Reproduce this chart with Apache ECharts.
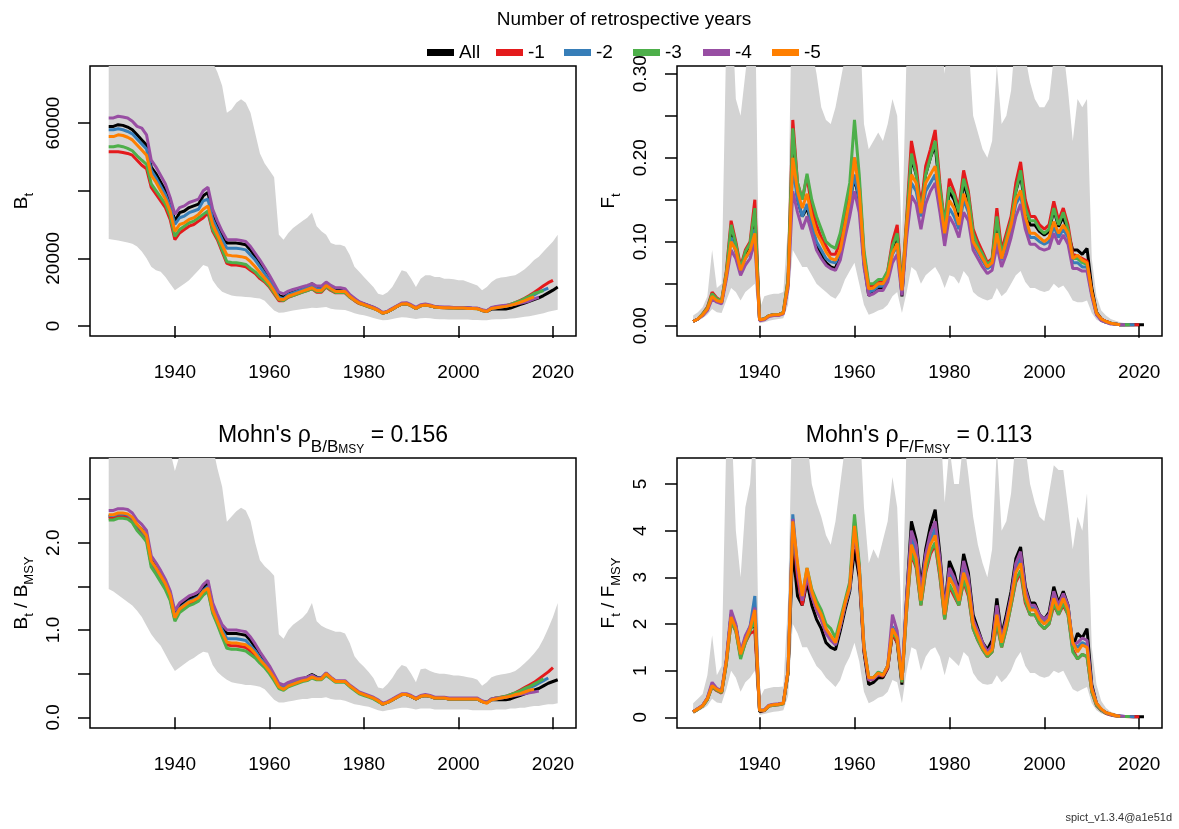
<!DOCTYPE html>
<html>
<head>
<meta charset="UTF-8">
<title>spict retro</title>
<script src="https://cdn.jsdelivr.net/npm/echarts@6/dist/echarts.min.js"></script>
<style>
html, body { margin: 0; padding: 0; background: #fff; }
#main { width: 1179px; height: 829px; }
</style>
</head>
<body>
<div id="main"></div>
<script>
var firstYear = 1926;
var retroNames = ['All', '-1', '-2', '-3', '-4', '-5'];
var retroColors = ['#000000', '#E41A1C', '#377EB8', '#4DAF4A', '#984EA3', '#FF7F00'];

// B_t, thousands (one value per year from 1926)
var bAll = [59.0, 59.0, 59.5, 59.3, 58.8, 58.0, 56.5, 55.0, 53.5, 47.0,
  45.0, 42.5, 40.0, 36.5, 31.0, 33.5, 34.0, 35.0, 35.5, 36.0,
  38.5, 39.5, 33.0, 30.0, 27.0, 24.5, 24.5, 24.5, 24.3, 24.0,
  22.5, 20.5, 18.5, 16.5, 14.5, 12.0, 9.0, 8.5, 9.5, 10.0,
  10.5, 11.0, 11.5, 12.5, 11.5, 11.5, 12.5, 11.5, 10.5, 10.5,
  10.5, 9.0, 8.0, 7.0, 6.5, 6.0, 5.5, 4.8, 3.8, 4.2,
  5.0, 5.8, 6.5, 6.6, 6.0, 5.2, 6.0, 6.2, 6.0, 5.6,
  5.5, 5.5, 5.4, 5.4, 5.3, 5.3, 5.3, 5.2, 5.2, 4.6,
  4.3, 5.0, 5.0, 5.0, 5.0, 5.3, 5.8, 6.3, 6.8, 7.3,
  7.8, 8.3, 9.0, 9.8, 10.6, 11.5];
var bM1 = [51.5, 51.5, 51.5, 51.3, 51.0, 50.5, 49.0, 47.5, 46.5, 41.0,
  39.0, 37.0, 35.0, 31.5, 25.5, 27.5, 28.5, 29.5, 30.0, 31.0,
  32.0, 33.5, 28.0, 25.5, 22.0, 18.5, 18.0, 18.0, 17.8, 17.5,
  16.5, 15.5, 14.0, 13.0, 11.5, 9.5, 7.5, 7.5, 8.5, 9.0,
  9.5, 10.0, 10.5, 11.0, 10.0, 10.0, 11.5, 10.5, 9.8, 9.8,
  9.8, 8.5, 7.5, 6.6, 6.2, 5.7, 5.2, 4.6, 3.8, 4.2,
  5.0, 5.8, 6.5, 6.6, 6.0, 5.2, 6.0, 6.2, 6.0, 5.6,
  5.5, 5.4, 5.4, 5.4, 5.3, 5.3, 5.3, 5.2, 5.2, 4.7,
  4.4, 5.3, 5.6, 5.8, 6.0, 6.4, 6.9, 7.5, 8.2, 9.0,
  9.9, 10.9, 11.9, 12.8, 13.5];
var bM2 = [58.0, 58.0, 58.3, 58.0, 57.5, 56.8, 55.3, 53.8, 52.3, 46.0,
  43.8, 41.3, 38.8, 35.3, 30.0, 32.0, 32.5, 33.5, 34.0, 34.5,
  37.0, 37.5, 31.5, 28.5, 25.5, 23.0, 23.0, 23.0, 22.8, 22.5,
  21.0, 19.5, 17.5, 15.5, 13.5, 11.0, 8.5, 8.0, 9.3, 9.8,
  10.3, 10.8, 11.3, 12.0, 11.0, 11.0, 12.3, 11.2, 10.3, 10.3,
  10.3, 8.8, 7.8, 6.9, 6.4, 5.9, 5.4, 4.7, 3.8, 4.2,
  5.0, 5.8, 6.5, 6.6, 6.0, 5.2, 6.0, 6.2, 6.0, 5.6,
  5.5, 5.5, 5.4, 5.4, 5.3, 5.3, 5.3, 5.2, 5.2, 4.6,
  4.4, 5.2, 5.4, 5.6, 5.8, 6.1, 6.6, 7.1, 7.7, 8.4,
  9.2, 10.0, 10.6, 11.2];
var bM3 = [53.0, 53.0, 53.3, 53.0, 52.5, 51.8, 50.3, 49.0, 47.8, 42.0,
  40.0, 38.0, 36.0, 32.5, 26.5, 28.5, 29.5, 30.5, 31.0, 32.0,
  33.0, 34.0, 28.5, 26.0, 22.5, 19.0, 18.8, 18.7, 18.5, 18.2,
  17.0, 16.0, 14.5, 13.3, 11.8, 9.8, 7.8, 7.5, 8.6, 9.0,
  9.5, 10.0, 10.5, 11.0, 10.2, 10.2, 11.6, 10.7, 9.9, 9.9,
  9.9, 8.5, 7.6, 6.7, 6.2, 5.7, 5.2, 4.6, 3.8, 4.2,
  5.0, 5.8, 6.5, 6.6, 6.0, 5.2, 6.0, 6.2, 6.0, 5.6,
  5.5, 5.4, 5.4, 5.3, 5.3, 5.3, 5.2, 5.2, 5.1, 4.6,
  4.4, 5.3, 5.5, 5.8, 6.0, 6.4, 6.9, 7.4, 8.1, 8.8,
  9.6, 10.0, 10.5];
var bM4 = [61.5, 61.5, 62.0, 61.8, 61.5, 60.5, 59.0, 58.5, 56.5, 49.0,
  47.0, 44.5, 42.0, 38.0, 33.0, 35.0, 35.5, 36.5, 37.0, 37.5,
  40.0, 41.0, 34.5, 31.0, 28.0, 25.5, 25.5, 25.5, 25.3, 25.0,
  23.5, 21.5, 19.5, 17.3, 15.0, 12.5, 10.0, 9.5, 10.3, 10.8,
  11.2, 11.6, 12.0, 12.5, 11.8, 11.8, 13.0, 12.0, 11.3, 11.3,
  11.0, 9.3, 8.2, 7.2, 6.6, 6.1, 5.6, 4.9, 4.0, 4.4,
  5.2, 6.0, 6.8, 6.9, 6.3, 5.5, 6.3, 6.5, 6.2, 5.8,
  5.7, 5.6, 5.6, 5.5, 5.5, 5.4, 5.4, 5.3, 5.3, 4.8,
  4.5, 5.5, 5.8, 6.0, 6.1, 6.2, 6.4, 6.7, 7.0, 7.4,
  8.0, 8.5];
var bM5 = [56.0, 56.0, 56.5, 56.3, 55.8, 55.0, 53.5, 52.0, 50.5, 44.5,
  42.5, 40.0, 37.5, 34.0, 28.0, 30.0, 30.5, 31.5, 32.0, 33.0,
  34.5, 35.5, 30.0, 27.0, 24.0, 21.0, 20.8, 20.7, 20.5, 20.2,
  19.0, 17.5, 15.8, 14.2, 12.5, 10.3, 8.0, 7.8, 8.8, 9.3,
  9.8, 10.3, 10.8, 11.3, 10.5, 10.5, 12.0, 11.0, 10.2, 10.2,
  10.2, 8.7, 7.7, 6.8, 6.3, 5.8, 5.3, 4.6, 3.8, 4.2,
  5.0, 5.8, 6.5, 6.6, 6.0, 5.2, 6.0, 6.2, 6.0, 5.6,
  5.5, 5.4, 5.4, 5.3, 5.3, 5.3, 5.2, 5.2, 5.1, 4.6,
  4.3, 5.2, 5.4, 5.6, 5.8, 6.1, 6.5, 7.0, 7.5, 8.1,
  8.6];
var bLow = [25.7, 25.5, 25.3, 25.0, 24.7, 24.3, 23.5, 22.0, 20.0, 17.5,
  16.5, 16.0, 14.5, 12.5, 10.6, 11.5, 12.5, 13.5, 15.0, 16.5,
  18.0, 17.5, 13.5, 11.5, 10.1, 9.5, 9.0, 8.8, 8.7, 8.6,
  8.5, 8.3, 8.1, 7.5, 6.0, 4.6, 3.9, 4.0, 4.3, 4.6,
  4.8, 5.0, 5.2, 5.4, 5.3, 5.5, 5.6, 5.1, 4.9, 4.8,
  4.7, 4.3, 3.8, 3.4, 3.2, 2.8, 2.4, 2.0, 1.7, 1.8,
  2.1, 2.4, 2.6, 2.5, 2.3, 2.1, 2.3, 2.4, 2.3, 2.1,
  2.0, 2.0, 1.9, 1.9, 1.9, 1.9, 1.9, 1.8, 1.8, 1.7,
  1.7, 1.9, 2.0, 2.0, 2.1, 2.2, 2.3, 2.5, 2.7, 2.9,
  3.2, 3.5, 3.8, 4.2, 4.5, 4.8];
var bHigh = [95, 96, 97, 97, 96, 95, 94, 92, 90, 88,
  87, 86, 85, 84, 82, 83, 84, 85, 86, 87,
  87, 86, 78, 75, 71, 63, 64, 66, 67, 66,
  63, 57, 51, 48, 46, 44, 27, 25.5, 27.5, 29,
  30, 31, 32, 33.5, 29.5, 28, 27, 24.5, 24, 24,
  23.5, 21, 17.5, 16, 14.5, 13, 11.5, 9.5, 9.2, 10,
  11.5, 14, 16.5, 16, 14, 11.5, 14, 15, 15, 14.5,
  14.5, 14, 14, 13.8, 13.5, 13.5, 13, 12.5, 12, 10.6,
  11.5, 13, 14, 14.3, 14.5, 14.8, 15, 15.8, 16.8, 18,
  19.5, 20.5, 22, 23.5, 25, 27];

// F_t
var fAll = [0.005, 0.008, 0.013, 0.02, 0.036, 0.03, 0.028, 0.06, 0.115, 0.09,
  0.066, 0.085, 0.092, 0.13, 0.007, 0.008, 0.012, 0.013, 0.013, 0.015,
  0.05, 0.21, 0.15, 0.13, 0.14, 0.12, 0.095, 0.085, 0.075, 0.07,
  0.068, 0.085, 0.12, 0.15, 0.175, 0.15, 0.075, 0.036, 0.04, 0.045,
  0.045, 0.06, 0.09, 0.11, 0.035, 0.12, 0.2, 0.18, 0.14, 0.18,
  0.2, 0.215, 0.16, 0.12, 0.16, 0.15, 0.13, 0.17, 0.15, 0.11,
  0.095, 0.085, 0.072, 0.078, 0.125, 0.085, 0.105, 0.125, 0.16, 0.18,
  0.14, 0.12, 0.12, 0.112, 0.108, 0.112, 0.138, 0.118, 0.13, 0.11,
  0.09, 0.09, 0.085, 0.092, 0.045, 0.016, 0.008, 0.005, 0.003, 0.002,
  0.001, 0.001, 0.001, 0.001, 0.001, 0.001];
var fM1 = [0.005, 0.008, 0.014, 0.022, 0.04, 0.033, 0.03, 0.065, 0.125, 0.10,
  0.07, 0.09, 0.10, 0.15, 0.007, 0.008, 0.012, 0.013, 0.013, 0.016,
  0.055, 0.245, 0.17, 0.15, 0.178, 0.14, 0.12, 0.105, 0.095, 0.085,
  0.085, 0.10, 0.13, 0.16, 0.20, 0.17, 0.085, 0.047, 0.048, 0.053,
  0.053, 0.065, 0.10, 0.12, 0.045, 0.13, 0.22, 0.19, 0.14, 0.19,
  0.21, 0.233, 0.17, 0.12, 0.175, 0.16, 0.14, 0.185, 0.16, 0.115,
  0.10, 0.088, 0.075, 0.08, 0.14, 0.09, 0.11, 0.13, 0.17, 0.195,
  0.15, 0.13, 0.13, 0.12, 0.115, 0.12, 0.148, 0.125, 0.14, 0.12,
  0.085, 0.083, 0.08, 0.077, 0.04, 0.015, 0.008, 0.005, 0.003, 0.002,
  0.001, 0.001, 0.001, 0.001, 0.001];
var fM2 = [0.005, 0.008, 0.013, 0.02, 0.035, 0.03, 0.028, 0.06, 0.105, 0.088,
  0.066, 0.08, 0.088, 0.115, 0.007, 0.008, 0.012, 0.013, 0.013, 0.015,
  0.05, 0.19, 0.15, 0.13, 0.145, 0.12, 0.10, 0.09, 0.08, 0.076,
  0.075, 0.088, 0.115, 0.145, 0.18, 0.15, 0.075, 0.04, 0.042, 0.047,
  0.047, 0.058, 0.085, 0.095, 0.04, 0.115, 0.17, 0.16, 0.13, 0.16,
  0.17, 0.18, 0.145, 0.105, 0.14, 0.13, 0.115, 0.15, 0.135, 0.097,
  0.087, 0.077, 0.068, 0.072, 0.105, 0.078, 0.095, 0.115, 0.145, 0.155,
  0.125, 0.105, 0.105, 0.1, 0.097, 0.1, 0.118, 0.105, 0.115, 0.105,
  0.075, 0.075, 0.07, 0.07, 0.038, 0.014, 0.007, 0.004, 0.003, 0.002,
  0.001, 0.001, 0.001, 0.001];
var fM3 = [0.005, 0.008, 0.014, 0.021, 0.038, 0.032, 0.03, 0.063, 0.12, 0.097,
  0.068, 0.088, 0.098, 0.14, 0.007, 0.008, 0.012, 0.013, 0.013, 0.016,
  0.055, 0.235, 0.17, 0.15, 0.181, 0.15, 0.13, 0.115, 0.1, 0.095,
  0.092, 0.11, 0.14, 0.17, 0.245, 0.18, 0.09, 0.05, 0.05, 0.055,
  0.055, 0.065, 0.095, 0.11, 0.045, 0.125, 0.205, 0.18, 0.135, 0.18,
  0.2, 0.22, 0.165, 0.12, 0.165, 0.155, 0.135, 0.175, 0.155, 0.11,
  0.095, 0.085, 0.073, 0.078, 0.13, 0.085, 0.105, 0.125, 0.16, 0.185,
  0.14, 0.125, 0.125, 0.115, 0.11, 0.115, 0.14, 0.12, 0.135, 0.115,
  0.08, 0.08, 0.075, 0.073, 0.038, 0.014, 0.007, 0.004, 0.003, 0.002,
  0.001, 0.001, 0.001];
var fM4 = [0.005, 0.008, 0.012, 0.018, 0.032, 0.028, 0.026, 0.055, 0.09, 0.08,
  0.06, 0.072, 0.08, 0.1, 0.006, 0.007, 0.011, 0.012, 0.012, 0.014,
  0.045, 0.16, 0.135, 0.115, 0.13, 0.11, 0.09, 0.08, 0.072, 0.068,
  0.066, 0.078, 0.105, 0.13, 0.16, 0.135, 0.07, 0.036, 0.038, 0.042,
  0.042, 0.052, 0.075, 0.085, 0.036, 0.105, 0.155, 0.145, 0.115, 0.145,
  0.16, 0.17, 0.135, 0.095, 0.13, 0.12, 0.105, 0.135, 0.125, 0.09,
  0.08, 0.07, 0.062, 0.066, 0.095, 0.07, 0.085, 0.105, 0.13, 0.145,
  0.115, 0.097, 0.097, 0.092, 0.09, 0.092, 0.11, 0.097, 0.108, 0.097,
  0.068, 0.068, 0.065, 0.065, 0.035, 0.013, 0.006, 0.004, 0.002, 0.002,
  0.001, 0.001];
var fM5 = [0.005, 0.008, 0.013, 0.02, 0.035, 0.03, 0.028, 0.06, 0.10, 0.09,
  0.066, 0.08, 0.09, 0.11, 0.007, 0.008, 0.012, 0.013, 0.013, 0.015,
  0.05, 0.20, 0.16, 0.14, 0.157, 0.13, 0.11, 0.10, 0.088, 0.08,
  0.078, 0.09, 0.12, 0.15, 0.20, 0.16, 0.08, 0.044, 0.045, 0.05,
  0.05, 0.06, 0.086, 0.098, 0.042, 0.12, 0.18, 0.17, 0.134, 0.17,
  0.18, 0.19, 0.15, 0.11, 0.149, 0.14, 0.12, 0.157, 0.14, 0.10,
  0.09, 0.08, 0.07, 0.075, 0.11, 0.08, 0.10, 0.12, 0.15, 0.161,
  0.13, 0.11, 0.11, 0.105, 0.10, 0.105, 0.124, 0.11, 0.12, 0.11,
  0.08, 0.084, 0.078, 0.075, 0.04, 0.015, 0.008, 0.005, 0.003, 0.002,
  0.001];
var fLow = [0.004, 0.006, 0.009, 0.013, 0.02, 0.016, 0.015, 0.03, 0.045, 0.04,
  0.03, 0.04, 0.045, 0.05, 0.003, 0.004, 0.006, 0.007, 0.008, 0.009,
  0.025, 0.09, 0.08, 0.07, 0.07, 0.06, 0.05, 0.045, 0.04, 0.035,
  0.032, 0.04, 0.055, 0.065, 0.075, 0.05, 0.025, 0.013, 0.015, 0.018,
  0.02, 0.025, 0.035, 0.04, 0.015, 0.04, 0.07, 0.065, 0.05, 0.06,
  0.065, 0.07, 0.06, 0.045, 0.06, 0.058, 0.05, 0.065, 0.058, 0.04,
  0.035, 0.032, 0.03, 0.032, 0.045, 0.035, 0.04, 0.05, 0.06, 0.065,
  0.052, 0.045, 0.045, 0.042, 0.04, 0.042, 0.05, 0.045, 0.048, 0.04,
  0.03, 0.028, 0.028, 0.03, 0.015, 0.007, 0.004, 0.003, 0.002, 0.001,
  0.001, 0.0005, 0.0005, 0.0005, 0.0005, 0.0005];
var fHigh = [0.012, 0.016, 0.022, 0.035, 0.09, 0.045, 0.05, 0.35, 0.40, 0.27,
  0.25, 0.30, 0.35, 0.40, 0.02, 0.035, 0.037, 0.038, 0.038, 0.04,
  0.12, 0.45, 0.40, 0.38, 0.38, 0.33, 0.30, 0.26, 0.245, 0.24,
  0.26, 0.29, 0.32, 0.36, 0.45, 0.38, 0.24, 0.21, 0.22, 0.23,
  0.22, 0.24, 0.27, 0.25, 0.10, 0.33, 0.42, 0.40, 0.32, 0.38,
  0.42, 0.44, 0.36, 0.30, 0.36, 0.34, 0.32, 0.38, 0.34, 0.25,
  0.23, 0.21, 0.20, 0.22, 0.31, 0.24, 0.25, 0.28, 0.35, 0.38,
  0.32, 0.29, 0.27, 0.26, 0.26, 0.27, 0.32, 0.32, 0.33, 0.28,
  0.22, 0.27, 0.26, 0.27, 0.08, 0.035, 0.018, 0.012, 0.008, 0.006,
  0.004, 0.003, 0.002, 0.002, 0.0015, 0.001];

// B_t / B_MSY
var bbAll = [2.30, 2.30, 2.32, 2.32, 2.31, 2.27, 2.20, 2.15, 2.08, 1.80,
  1.72, 1.63, 1.54, 1.42, 1.18, 1.28, 1.32, 1.36, 1.38, 1.40,
  1.48, 1.53, 1.28, 1.15, 1.03, 0.96, 0.96, 0.96, 0.95, 0.94,
  0.88, 0.80, 0.72, 0.65, 0.57, 0.47, 0.36, 0.34, 0.38, 0.40,
  0.42, 0.44, 0.46, 0.49, 0.46, 0.45, 0.50, 0.45, 0.41, 0.41,
  0.41, 0.36, 0.32, 0.28, 0.26, 0.24, 0.22, 0.19, 0.15, 0.17,
  0.20, 0.23, 0.26, 0.26, 0.24, 0.21, 0.24, 0.25, 0.24, 0.22,
  0.22, 0.22, 0.21, 0.21, 0.21, 0.21, 0.21, 0.21, 0.21, 0.18,
  0.17, 0.20, 0.20, 0.20, 0.20, 0.21, 0.23, 0.25, 0.27, 0.29,
  0.31, 0.33, 0.36, 0.39, 0.41, 0.43];
var bbM1 = [2.28, 2.28, 2.30, 2.30, 2.29, 2.25, 2.17, 2.11, 2.04, 1.75,
  1.67, 1.58, 1.49, 1.36, 1.12, 1.22, 1.26, 1.30, 1.32, 1.35,
  1.42, 1.46, 1.21, 1.08, 0.94, 0.83, 0.82, 0.82, 0.81, 0.80,
  0.76, 0.71, 0.65, 0.59, 0.52, 0.44, 0.34, 0.33, 0.37, 0.39,
  0.41, 0.43, 0.44, 0.47, 0.44, 0.44, 0.50, 0.45, 0.41, 0.41,
  0.41, 0.36, 0.32, 0.28, 0.26, 0.24, 0.22, 0.19, 0.15, 0.17,
  0.20, 0.23, 0.26, 0.26, 0.24, 0.21, 0.24, 0.25, 0.24, 0.22,
  0.22, 0.22, 0.21, 0.21, 0.21, 0.21, 0.21, 0.21, 0.21, 0.18,
  0.17, 0.21, 0.22, 0.23, 0.24, 0.26, 0.28, 0.31, 0.34, 0.37,
  0.40, 0.44, 0.48, 0.52, 0.57];
var bbM2 = [2.31, 2.31, 2.33, 2.33, 2.32, 2.28, 2.20, 2.14, 2.07, 1.78,
  1.70, 1.61, 1.52, 1.40, 1.16, 1.25, 1.29, 1.33, 1.35, 1.38,
  1.45, 1.50, 1.25, 1.12, 1.00, 0.90, 0.90, 0.90, 0.89, 0.88,
  0.82, 0.76, 0.68, 0.62, 0.55, 0.46, 0.36, 0.34, 0.38, 0.40,
  0.42, 0.44, 0.45, 0.48, 0.45, 0.45, 0.50, 0.45, 0.41, 0.41,
  0.41, 0.36, 0.32, 0.28, 0.26, 0.24, 0.22, 0.19, 0.15, 0.17,
  0.20, 0.23, 0.26, 0.26, 0.24, 0.21, 0.24, 0.25, 0.24, 0.22,
  0.22, 0.22, 0.21, 0.21, 0.21, 0.21, 0.21, 0.21, 0.21, 0.18,
  0.17, 0.20, 0.21, 0.22, 0.23, 0.25, 0.27, 0.29, 0.31, 0.34,
  0.36, 0.39, 0.42, 0.45];
var bbM3 = [2.26, 2.26, 2.28, 2.28, 2.27, 2.23, 2.14, 2.08, 2.01, 1.72,
  1.64, 1.55, 1.46, 1.34, 1.10, 1.20, 1.24, 1.28, 1.30, 1.33,
  1.40, 1.44, 1.19, 1.06, 0.92, 0.79, 0.78, 0.78, 0.77, 0.76,
  0.72, 0.68, 0.62, 0.57, 0.50, 0.42, 0.33, 0.31, 0.35, 0.37,
  0.39, 0.41, 0.42, 0.45, 0.43, 0.43, 0.48, 0.44, 0.40, 0.40,
  0.40, 0.35, 0.31, 0.27, 0.25, 0.23, 0.21, 0.18, 0.15, 0.17,
  0.20, 0.23, 0.26, 0.26, 0.24, 0.21, 0.24, 0.25, 0.24, 0.22,
  0.22, 0.22, 0.21, 0.21, 0.21, 0.21, 0.21, 0.21, 0.21, 0.18,
  0.17, 0.21, 0.22, 0.23, 0.24, 0.26, 0.28, 0.30, 0.33, 0.35,
  0.38, 0.41, 0.44];
var bbM4 = [2.37, 2.37, 2.39, 2.39, 2.38, 2.34, 2.26, 2.21, 2.14, 1.85,
  1.77, 1.68, 1.58, 1.45, 1.22, 1.31, 1.35, 1.39, 1.41, 1.44,
  1.52, 1.57, 1.31, 1.18, 1.06, 1.00, 1.00, 1.00, 0.99, 0.98,
  0.92, 0.84, 0.75, 0.67, 0.59, 0.49, 0.39, 0.37, 0.40, 0.42,
  0.44, 0.45, 0.46, 0.48, 0.45, 0.45, 0.51, 0.46, 0.42, 0.42,
  0.42, 0.37, 0.33, 0.29, 0.27, 0.25, 0.23, 0.20, 0.16, 0.18,
  0.21, 0.24, 0.27, 0.27, 0.25, 0.22, 0.25, 0.26, 0.25, 0.23,
  0.23, 0.23, 0.22, 0.22, 0.22, 0.22, 0.22, 0.22, 0.22, 0.19,
  0.17, 0.21, 0.22, 0.22, 0.23, 0.24, 0.25, 0.26, 0.27, 0.28,
  0.29, 0.30];
var bbM5 = [2.32, 2.32, 2.34, 2.34, 2.33, 2.29, 2.21, 2.15, 2.08, 1.79,
  1.71, 1.62, 1.53, 1.40, 1.14, 1.24, 1.28, 1.32, 1.34, 1.37,
  1.44, 1.48, 1.23, 1.10, 0.97, 0.86, 0.85, 0.85, 0.84, 0.83,
  0.79, 0.73, 0.66, 0.60, 0.53, 0.45, 0.35, 0.32, 0.36, 0.38,
  0.40, 0.42, 0.43, 0.46, 0.44, 0.44, 0.50, 0.45, 0.41, 0.41,
  0.41, 0.36, 0.32, 0.28, 0.26, 0.24, 0.22, 0.19, 0.15, 0.17,
  0.20, 0.23, 0.26, 0.26, 0.24, 0.21, 0.24, 0.25, 0.24, 0.22,
  0.22, 0.22, 0.21, 0.21, 0.21, 0.21, 0.21, 0.21, 0.21, 0.18,
  0.16, 0.20, 0.21, 0.22, 0.23, 0.24, 0.26, 0.27, 0.29, 0.31,
  0.32];
var bbLow = [1.47, 1.44, 1.40, 1.36, 1.32, 1.28, 1.22, 1.15, 1.05, 0.95,
  0.88, 0.82, 0.72, 0.62, 0.53, 0.57, 0.61, 0.65, 0.68, 0.72,
  0.75, 0.74, 0.60, 0.52, 0.47, 0.43, 0.40, 0.39, 0.38, 0.37,
  0.37, 0.36, 0.35, 0.32, 0.26, 0.20, 0.17, 0.17, 0.18, 0.19,
  0.20, 0.21, 0.21, 0.22, 0.22, 0.22, 0.23, 0.21, 0.20, 0.20,
  0.19, 0.17, 0.15, 0.14, 0.13, 0.12, 0.10, 0.08, 0.07, 0.08,
  0.09, 0.10, 0.11, 0.11, 0.10, 0.09, 0.10, 0.10, 0.10, 0.09,
  0.09, 0.09, 0.09, 0.09, 0.09, 0.09, 0.09, 0.08, 0.08, 0.08,
  0.08, 0.08, 0.09, 0.09, 0.09, 0.10, 0.10, 0.11, 0.11, 0.12,
  0.13, 0.13, 0.14, 0.15, 0.15, 0.16];
var bbHigh = [4.0, 4.0, 4.1, 4.1, 4.0, 3.9, 3.8, 3.7, 3.6, 3.5,
  3.4, 3.3, 3.2, 3.05, 2.82, 3.0, 3.2, 3.4, 3.5, 3.5,
  3.4, 3.3, 3.1, 2.85, 2.64, 2.24, 2.30, 2.36, 2.40, 2.37,
  2.25, 2.0, 1.80, 1.73, 1.68, 1.62, 0.95, 0.90, 1.00, 1.06,
  1.10, 1.14, 1.20, 1.31, 1.10, 1.05, 1.02, 1.0, 0.98, 0.98,
  0.96, 0.85, 0.70, 0.63, 0.58, 0.52, 0.45, 0.34, 0.33, 0.38,
  0.45, 0.54, 0.60, 0.58, 0.50, 0.40, 0.55, 0.56, 0.53, 0.51,
  0.50, 0.50, 0.49, 0.48, 0.48, 0.47, 0.46, 0.45, 0.43, 0.36,
  0.40, 0.46, 0.48, 0.49, 0.50, 0.51, 0.53, 0.57, 0.62, 0.67,
  0.73, 0.80, 0.90, 1.02, 1.15, 1.31];

// F_t / F_MSY
var ffAll = [0.12, 0.18, 0.25, 0.4, 0.7, 0.6, 0.55, 1.2, 2.2, 1.95,
  1.35, 1.7, 1.9, 2.0, 0.12, 0.15, 0.25, 0.27, 0.28, 0.3,
  0.95, 3.6, 2.6, 2.4, 2.9, 2.4, 2.1, 1.9, 1.6, 1.5,
  1.45, 1.85, 2.3, 2.7, 3.6, 3.0, 1.4, 0.7, 0.75, 0.85,
  0.85, 1.05, 1.8, 1.6, 0.7, 2.6, 4.2, 3.8, 2.8, 3.6,
  4.1, 4.45, 3.5, 2.3, 3.35, 3.1, 2.7, 3.5, 3.1, 2.2,
  1.9, 1.6, 1.45, 1.65, 2.55, 1.75, 2.2, 2.7, 3.4, 3.65,
  2.8, 2.45, 2.45, 2.2, 2.1, 2.25, 2.8, 2.45, 2.7, 2.4,
  1.5, 1.8, 1.7, 1.9, 0.7, 0.3, 0.16, 0.1, 0.06, 0.04,
  0.025, 0.02, 0.015, 0.012, 0.01, 0.01];
var ffM1 = [0.11, 0.17, 0.24, 0.38, 0.65, 0.57, 0.52, 1.15, 2.05, 1.85,
  1.3, 1.6, 1.8, 1.85, 0.14, 0.14, 0.24, 0.26, 0.27, 0.29,
  0.95, 4.0, 3.0, 2.4, 3.0, 2.6, 2.3, 2.1, 1.8, 1.7,
  1.6, 1.95, 2.4, 2.75, 4.0, 3.1, 1.45, 0.8, 0.82, 0.92,
  0.88, 1.05, 1.8, 1.6, 0.75, 2.3, 3.5, 3.2, 2.4, 3.1,
  3.5, 3.7, 3.0, 2.1, 2.8, 2.6, 2.4, 2.9, 2.6, 1.9,
  1.65, 1.45, 1.3, 1.4, 2.0, 1.5, 1.9, 2.4, 2.9, 3.1,
  2.45, 2.2, 2.2, 2.0, 1.9, 2.0, 2.4, 2.2, 2.4, 2.2,
  1.45, 1.25, 1.35, 1.3, 0.55, 0.25, 0.15, 0.08, 0.05, 0.03,
  0.02, 0.015, 0.012, 0.01, 0.01];
var ffM2 = [0.12, 0.18, 0.25, 0.4, 0.7, 0.6, 0.55, 1.2, 2.2, 1.95,
  1.35, 1.7, 1.95, 2.6, 0.15, 0.15, 0.25, 0.27, 0.28, 0.3,
  1.0, 4.35, 3.2, 2.55, 3.1, 2.65, 2.35, 2.15, 1.85, 1.7,
  1.55, 1.95, 2.4, 2.75, 4.2, 3.2, 1.5, 0.85, 0.85, 0.95,
  0.9, 1.1, 1.95, 1.75, 0.85, 2.5, 3.85, 3.5, 2.6, 3.4,
  3.8, 4.05, 3.3, 2.25, 3.1, 2.9, 2.55, 3.2, 2.9, 2.05,
  1.8, 1.55, 1.4, 1.5, 2.3, 1.65, 2.05, 2.55, 3.2, 3.4,
  2.65, 2.35, 2.35, 2.15, 2.05, 2.15, 2.6, 2.35, 2.6, 2.35,
  1.6, 1.5, 1.6, 1.55, 0.6, 0.28, 0.16, 0.1, 0.06, 0.04,
  0.03, 0.02, 0.015, 0.012];
var ffM3 = [0.11, 0.17, 0.24, 0.38, 0.66, 0.58, 0.53, 1.15, 2.05, 1.85,
  1.25, 1.6, 1.85, 2.1, 0.14, 0.15, 0.24, 0.26, 0.27, 0.29,
  0.95, 4.1, 3.2, 2.6, 3.2, 2.75, 2.5, 2.3, 2.0, 1.9,
  1.7, 2.1, 2.5, 2.9, 4.35, 3.3, 1.55, 0.85, 0.85, 0.97,
  0.92, 1.1, 1.85, 1.65, 0.75, 2.3, 3.55, 3.25, 2.4, 3.15,
  3.55, 3.75, 3.05, 2.1, 2.85, 2.65, 2.4, 2.95, 2.65, 1.9,
  1.65, 1.45, 1.3, 1.4, 2.05, 1.5, 1.9, 2.4, 2.95, 3.15,
  2.5, 2.2, 2.2, 2.0, 1.9, 2.0, 2.45, 2.2, 2.45, 2.2,
  1.4, 1.25, 1.35, 1.3, 0.55, 0.26, 0.15, 0.09, 0.06, 0.035,
  0.025, 0.02, 0.015];
var ffM4 = [0.12, 0.19, 0.26, 0.42, 0.75, 0.62, 0.57, 1.25, 2.3, 2.0,
  1.4, 1.75, 1.95, 2.35, 0.15, 0.16, 0.26, 0.28, 0.29, 0.31,
  1.0, 4.25, 3.1, 2.5, 3.05, 2.6, 2.3, 2.1, 1.8, 1.65,
  1.55, 1.95, 2.4, 2.8, 4.0, 3.2, 1.5, 0.8, 0.82, 0.92,
  0.9, 1.1, 2.2, 1.85, 0.85, 2.6, 4.0, 3.7, 2.7, 3.5,
  3.95, 4.2, 3.4, 2.3, 3.2, 3.0, 2.65, 3.35, 3.0, 2.1,
  1.85, 1.6, 1.4, 1.55, 2.4, 1.7, 2.1, 2.6, 3.3, 3.55,
  2.75, 2.4, 2.4, 2.2, 2.1, 2.2, 2.7, 2.4, 2.65, 2.4,
  1.55, 1.6, 1.7, 1.65, 0.65, 0.3, 0.17, 0.1, 0.06, 0.04,
  0.03, 0.02];
var ffM5 = [0.12, 0.18, 0.25, 0.4, 0.68, 0.6, 0.55, 1.2, 2.15, 1.9,
  1.35, 1.65, 1.9, 2.3, 0.15, 0.15, 0.25, 0.27, 0.28, 0.3,
  1.0, 4.2, 3.3, 2.6, 3.2, 2.7, 2.4, 2.2, 1.9, 1.75,
  1.6, 2.0, 2.45, 2.8, 4.1, 3.2, 1.5, 0.85, 0.85, 0.95,
  0.9, 1.1, 1.9, 1.7, 0.8, 2.4, 3.7, 3.4, 2.5, 3.3,
  3.7, 3.9, 3.2, 2.2, 3.0, 2.8, 2.5, 3.1, 2.8, 2.0,
  1.75, 1.5, 1.35, 1.45, 2.2, 1.6, 2.0, 2.5, 3.1, 3.3,
  2.6, 2.3, 2.3, 2.1, 2.0, 2.1, 2.55, 2.3, 2.55, 2.3,
  1.6, 1.4, 1.55, 1.5, 0.6, 0.3, 0.18, 0.1, 0.07, 0.04,
  0.02];
var ffLow = [0.1, 0.13, 0.18, 0.25, 0.4, 0.32, 0.3, 0.6, 1.0, 0.85,
  0.55, 0.75, 0.85, 1.0, 0.05, 0.07, 0.1, 0.12, 0.13, 0.15,
  0.45, 2.0, 1.8, 1.5, 1.5, 1.3, 1.1, 1.0, 0.85, 0.75,
  0.65, 0.8, 1.1, 1.3, 1.6, 1.2, 0.55, 0.3, 0.35, 0.42,
  0.45, 0.55, 0.8, 0.75, 0.3, 1.0, 1.5, 1.45, 1.0, 1.3,
  1.45, 1.5, 1.3, 0.9, 1.3, 1.2, 1.1, 1.4, 1.3, 0.95,
  0.8, 0.72, 0.7, 0.72, 0.9, 0.75, 0.85, 1.0, 1.25, 1.4,
  1.1, 0.95, 0.95, 0.88, 0.85, 0.88, 1.0, 0.95, 1.0, 0.8,
  0.6, 0.55, 0.6, 0.65, 0.3, 0.15, 0.08, 0.05, 0.03, 0.02,
  0.01, 0.005, 0.005, 0.005, 0.005, 0.005];
var ffHigh = [0.3, 0.4, 0.5, 0.9, 1.76, 0.9, 1.1, 6.0, 6.5, 4.0,
  3.0, 4.5, 5.0, 6.5, 0.4, 0.6, 0.63, 0.65, 0.65, 0.66,
  2.5, 7.0, 6.5, 6.0, 6.0, 5.0, 4.6, 4.3, 3.9, 3.7,
  4.2, 5.0, 5.8, 6.5, 7.5, 6.5, 4.5, 3.3, 3.6, 3.4,
  3.8, 4.2, 5.15, 4.5, 1.87, 6.0, 7.0, 6.5, 5.7, 6.5,
  7.0, 7.5, 6.5, 4.6, 5.8, 5.0, 5.0, 6.0, 5.2, 4.3,
  3.7, 3.3, 3.0, 3.6, 5.8, 4.0, 4.2, 4.8, 6.0, 6.5,
  5.8, 5.0, 4.6, 4.3, 4.2, 4.8, 5.4, 5.3, 5.3, 4.5,
  3.6, 4.3, 4.0, 4.8, 1.5, 0.7, 0.35, 0.2, 0.12, 0.08,
  0.05, 0.04, 0.035, 0.03, 0.03, 0.03];

var xTicks = [1940, 1960, 1980, 2000, 2020];

var FONT = '"Liberation Sans", Arial, Helvetica, sans-serif';

var panels = [
  { lines: [bAll, bM1, bM2, bM3, bM4, bM5], lo: bLow, hi: bHigh, scale: 1000,
    grid: { left: 90, top: 66, width: 486, height: 270 },
    xMin: 1922.04, xMax: 2024.87, yMin: -2955, yMax: 76850,
    yTicks: [0, 20000, 40000, 60000], yLabels: [0, 20000, 60000], digits: 0,
    name: '{a|B}{b|t}' },
  { lines: [fAll, fM1, fM2, fM3, fM4, fM5], lo: fLow, hi: fHigh, scale: 1,
    grid: { left: 677, top: 66, width: 485, height: 270 },
    xMin: 1922.6, xMax: 2024.8, yMin: -0.01226, yMax: 0.3092,
    yTicks: [0, 0.05, 0.1, 0.15, 0.2, 0.25, 0.3], yLabels: [0, 0.1, 0.2, 0.3], digits: 2,
    name: '{a|F}{b|t}' },
  { lines: [bbAll, bbM1, bbM2, bbM3, bbM4, bbM5], lo: bbLow, hi: bbHigh, scale: 1,
    grid: { left: 90, top: 458, width: 486, height: 270 },
    xMin: 1922.04, xMax: 2024.87, yMin: -0.1226, yMax: 2.970,
    yTicks: [0, 0.5, 1, 1.5, 2, 2.5], yLabels: [0, 1, 2], digits: 1,
    name: '{a|B}{b|t}{a| / B}{b|MSY}' },
  { lines: [ffAll, ffM1, ffM2, ffM3, ffM4, ffM5], lo: ffLow, hi: ffHigh, scale: 1,
    grid: { left: 677, top: 458, width: 485, height: 270 },
    xMin: 1922.6, xMax: 2024.8, yMin: -0.229, yMax: 5.557,
    yTicks: [0, 1, 2, 3, 4, 5], yLabels: [0, 1, 2, 3, 4, 5], digits: 0,
    name: '{a|F}{b|t}{a| / F}{b|MSY}' }
];

function pairs(vals, scale) {
  return vals.map(function (v, i) { return [firstYear + i, v * scale]; });
}

// grey confidence band as one polygon through the axis scales
function bandSeries(k, lo, hi, sc) {
  return {
    type: 'custom', xAxisIndex: k, yAxisIndex: k, clip: true, silent: true, z: 1,
    data: [[firstYear, lo[0] * sc]],
    renderItem: function (params, api) {
      var pts = [], i;
      for (i = 0; i < hi.length; i++) pts.push(api.coord([firstYear + i, hi[i] * sc]));
      for (i = lo.length - 1; i >= 0; i--) pts.push(api.coord([firstYear + i, lo[i] * sc]));
      return { type: 'polygon', shape: { points: pts }, style: { fill: '#d3d3d3', stroke: null } };
    }
  };
}

var nameRich = {
  a: { fontSize: 19, fontFamily: FONT, color: '#000', lineHeight: 24, verticalAlign: 'top' },
  b: { fontSize: 13, fontFamily: FONT, color: '#000', lineHeight: 13, verticalAlign: 'bottom' }
};

var grids = [], xAxes = [], yAxes = [], series = [];
panels.forEach(function (p, k) {
  grids.push(Object.assign({ show: true, borderColor: '#000', borderWidth: 1.5,
    backgroundColor: 'transparent' }, p.grid));
  xAxes.push({
    type: 'value', gridIndex: k, min: p.xMin, max: p.xMax,
    axisLine: { show: false }, splitLine: { show: false },
    axisTick: { show: true, customValues: xTicks, length: 12, lineStyle: { color: '#000', width: 1.5 } },
    axisLabel: { customValues: xTicks, fontSize: 19, color: '#000', fontFamily: FONT, margin: 27,
      formatter: function (v) { return String(v); } }
  });
  yAxes.push({
    type: 'value', gridIndex: k, min: p.yMin, max: p.yMax,
    axisLine: { show: false }, splitLine: { show: false },
    axisTick: { show: true, customValues: p.yTicks, length: 12, lineStyle: { color: '#000', width: 1.5 } },
    axisLabel: { customValues: p.yLabels, rotate: 90, fontSize: 19, color: '#000', fontFamily: FONT, margin: 27,
      formatter: function (v) { return Number(v).toFixed(p.digits); } },
    name: p.name, nameLocation: 'middle', nameRotate: 90, nameGap: 54,
    nameTextStyle: { color: '#000', fontFamily: FONT, fontSize: 19, rich: nameRich }
  });
  series.push(bandSeries(k, p.lo, p.hi, p.scale));
  p.lines.forEach(function (arr, j) {
    series.push({ type: 'line', name: retroNames[j], xAxisIndex: k, yAxisIndex: k,
      symbol: 'none', silent: true, data: pairs(arr, p.scale), z: 2 + j,
      lineStyle: { color: retroColors[j], width: 3 }, itemStyle: { color: retroColors[j] } });
  });
});

var legendX = [427, 496, 564, 633, 703, 772];
var legends = retroNames.map(function (n, j) {
  return { data: [n], left: legendX[j], top: 43, padding: 0, icon: 'rect',
    itemWidth: 27, itemHeight: 7, itemGap: 0, selectedMode: false,
    textStyle: { fontSize: 19, color: '#000', fontFamily: FONT } };
});

var titleRich = {
  m: { fontSize: 23, fontFamily: FONT, color: '#000', lineHeight: 31, verticalAlign: 'top' },
  s: { fontSize: 17, fontFamily: FONT, color: '#000', lineHeight: 17, verticalAlign: 'bottom' },
  ss: { fontSize: 12, fontFamily: FONT, color: '#000', lineHeight: 6, verticalAlign: 'bottom' }
};

var chart = echarts.init(document.getElementById('main'));
chart.setOption({
  animation: false,
  backgroundColor: '#fff',
  grid: grids,
  xAxis: xAxes,
  yAxis: yAxes,
  legend: legends,
  series: series,
  graphic: [
    { type: 'text', x: 624, y: 20, silent: true,
      style: { text: 'Number of retrospective years', font: '19px ' + FONT, fill: '#000',
        align: 'center', verticalAlign: 'middle', textAlign: 'center', textVerticalAlign: 'middle' } },
    { type: 'text', x: 333, y: 440, silent: true,
      style: { text: "{m|Mohn's \u03C1}{s|B/B}{ss|MSY}{m| = 0.156}", rich: titleRich, fill: '#000',
        align: 'center', verticalAlign: 'middle', textAlign: 'center', textVerticalAlign: 'middle' } },
    { type: 'text', x: 919, y: 440, silent: true,
      style: { text: "{m|Mohn's \u03C1}{s|F/F}{ss|MSY}{m| = 0.113}", rich: titleRich, fill: '#000',
        align: 'center', verticalAlign: 'middle', textAlign: 'center', textVerticalAlign: 'middle' } },
    { type: 'text', x: 1172, y: 818, silent: true,
      style: { text: 'spict_v1.3.4@a1e51d', font: '11px ' + FONT, fill: '#333',
        align: 'right', verticalAlign: 'middle', textAlign: 'right', textVerticalAlign: 'middle' } }
  ]
});
</script>
</body>
</html>
